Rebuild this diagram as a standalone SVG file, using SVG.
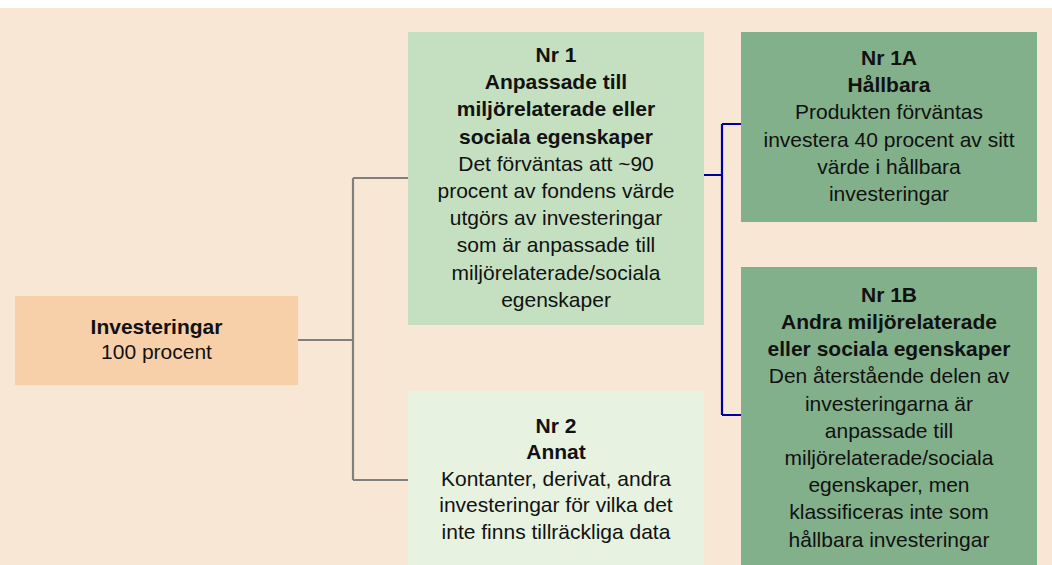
<svg xmlns="http://www.w3.org/2000/svg" width="1052" height="565" viewBox="0 0 1052 565">
<style>
text{font-family:"Liberation Sans",Arial,sans-serif;font-size:21px;fill:#111;text-anchor:middle}
.b{font-weight:bold}
.gray{stroke:#808080;stroke-width:2.2;fill:none}
.blue{stroke:#0000A0;stroke-width:2.2;fill:none}
</style>
<rect x="0" y="0" width="1052" height="565" fill="#ffffff"/>
<rect x="0" y="8" width="1052" height="557" fill="#F9E7D5"/>
<g id="connectors">
<path class="gray" d="M298 340 H353 M353 178 V480 M353 178 H408 M353 480 H408"/>
<path class="blue" d="M704 175 H722 M722 124 V415 M722 124 H741 M722 415 H741"/>
</g>
<g id="investeringar">
<rect x="15" y="296" width="283" height="89" fill="#F7D0AA"/>
<text x="156.5" y="333.5" class="b">Investeringar</text>
<text x="156.5" y="359">100 procent</text>
</g>
<g id="nr1">
<rect x="408" y="32" width="296" height="293" fill="#C4E0C0"/>
<text x="556" y="62" class="b">Nr 1</text>
<text x="556" y="89.2" class="b">Anpassade till</text>
<text x="556" y="116.4" class="b">miljörelaterade eller</text>
<text x="556" y="143.6" class="b">sociala egenskaper</text>
<text x="556" y="170.8">Det förväntas att ~90</text>
<text x="556" y="198">procent av fondens värde</text>
<text x="556" y="225.2">utgörs av investeringar</text>
<text x="556" y="252.4">som är anpassade till</text>
<text x="556" y="279.6">miljörelaterade/sociala</text>
<text x="556" y="306.8">egenskaper</text>
</g>
<g id="nr2">
<rect x="408" y="391" width="296" height="174" fill="#E8F2E1"/>
<text x="556" y="432.7" class="b">Nr 2</text>
<text x="556" y="459.2" class="b">Annat</text>
<text x="556" y="485.7">Kontanter, derivat, andra</text>
<text x="556" y="512.2">investeringar för vilka det</text>
<text x="556" y="538.7">inte finns tillräckliga data</text>
</g>
<g id="nr1a">
<rect x="741" y="32" width="296" height="190" fill="#82B08A"/>
<text x="889" y="65" class="b">Nr 1A</text>
<text x="889" y="92.2" class="b">Hållbara</text>
<text x="889" y="119.4">Produkten förväntas</text>
<text x="889" y="146.6">investera 40 procent av sitt</text>
<text x="889" y="173.8">värde i hållbara</text>
<text x="889" y="201">investeringar</text>
</g>
<g id="nr1b">
<rect x="741" y="267" width="296" height="298" fill="#82B08A"/>
<text x="889" y="301.7" class="b">Nr 1B</text>
<text x="889" y="328.9" class="b">Andra miljörelaterade</text>
<text x="889" y="356.1" class="b">eller sociala egenskaper</text>
<text x="889" y="383.3">Den återstående delen av</text>
<text x="889" y="410.5">investeringarna är</text>
<text x="889" y="437.7">anpassade till</text>
<text x="889" y="464.9">miljörelaterade/sociala</text>
<text x="889" y="492.1">egenskaper, men</text>
<text x="889" y="519.3">klassificeras inte som</text>
<text x="889" y="546.5">hållbara investeringar</text>
</g>
</svg>
